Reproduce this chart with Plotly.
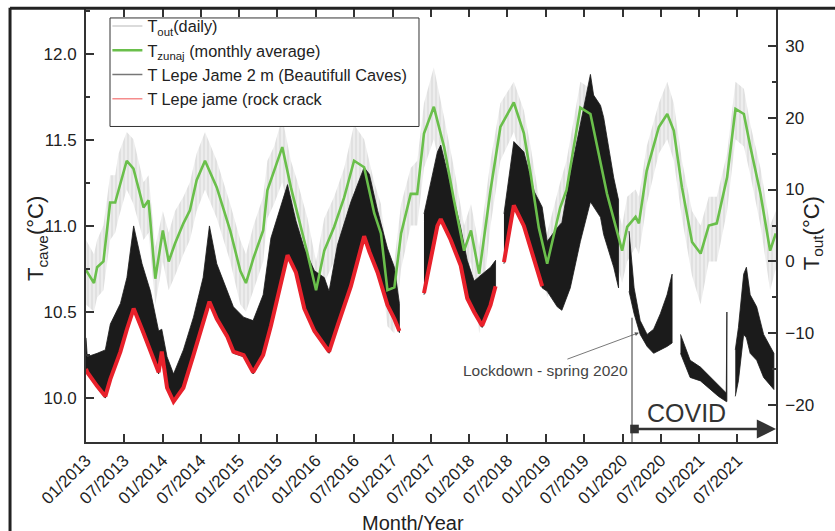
import plotly.graph_objects as go

# ---------------------------------------------------------------------------
# Outside air temperature (right axis, degC)
# ---------------------------------------------------------------------------
OUT_DATES = [
    "2013-01-01", "2013-02-08", "2013-02-23", "2013-03-25", "2013-04-26", "2013-05-20",
    "2013-06-05", "2013-07-14", "2013-08-15", "2013-10-02", "2013-10-26", "2013-11-27",
    "2014-01-02", "2014-01-30", "2014-03-01", "2014-04-10", "2014-05-11", "2014-06-12",
    "2014-07-22", "2014-09-16", "2014-11-19", "2015-01-06", "2015-02-02", "2015-03-10",
    "2015-04-25", "2015-05-15", "2015-06-16", "2015-07-25", "2015-09-04", "2015-10-06",
    "2015-11-22", "2016-01-02", "2016-02-10", "2016-03-28", "2016-05-15", "2016-07-01",
    "2016-08-18", "2016-10-05", "2016-11-06", "2016-12-07", "2017-01-09", "2017-02-10",
    "2017-03-28", "2017-04-28", "2017-05-30", "2017-07-16", "2017-09-03", "2017-10-20",
    "2017-12-07", "2018-01-09", "2018-02-17", "2018-04-12", "2018-05-29", "2018-08-01",
    "2018-09-18", "2018-10-20", "2018-11-28", "2019-01-07", "2019-03-10", "2019-04-09",
    "2019-06-14", "2019-08-01", "2019-10-19", "2019-12-30", "2020-01-23", "2020-03-03",
    "2020-03-19", "2020-04-25", "2020-06-22", "2020-08-01", "2020-09-01", "2020-10-10",
    "2020-11-27", "2021-01-07", "2021-02-15", "2021-03-25", "2021-05-13", "2021-06-22",
    "2021-08-01", "2021-09-01", "2021-10-19", "2021-12-04", "2021-12-31",
]
# monthly (running) average
OUT_MONTHLY = [
    -1.2, -3.0, -0.8, 0.0, 8.2, 8.2,
    9.9, 14.0, 12.9, 7.5, 8.5, -2.4,
    4.3, 0.0, 2.5, 5.3, 7.1, 11.3,
    14.0, 10.3, 4.3, -1.3, -3.0, 0.5,
    4.3, 9.9, 12.6, 15.9, 10.3, 6.7,
    1.1, -4.0, 1.5, 4.8, 8.9, 14.0,
    13.1, 6.7, 3.9, -4.0, -3.6, 3.9,
    9.4, 9.4, 17.8, 21.5, 15.9, 8.5,
    1.5, 4.3, -1.7, 9.9, 18.7, 22.1,
    17.8, 12.2, 4.7, -0.3, 7.5, 9.9,
    21.4, 20.5, 9.4, 1.5, 4.8, 6.2,
    5.3, 12.6, 18.7, 20.5, 18.2, 10.3,
    2.7, 1.1, 5.0, 5.3, 11.7, 21.2,
    20.5, 15.9, 9.4, 1.5, 3.9,
]
# spread of the daily values
OUT_DAILY_HIGH = [
    3, 1, 3, 5, 12, 12,
    15, 18, 17, 11, 12, 2,
    7, 4, 7, 9, 11, 15,
    18, 14, 8, 3, 1, 5,
    9, 14, 16, 20, 14, 11,
    6, 0, 6, 9, 13, 19,
    17, 11, 8, 0, 0, 8,
    13, 14, 22, 27, 20, 13,
    5, 8, 2, 14, 22, 25,
    21, 16, 9, 4, 11, 14,
    25, 24, 13, 5, 9, 10,
    9, 16, 22, 25, 22, 14,
    7, 5, 9, 9, 15, 25,
    24, 19, 13, 5, 7,
]
OUT_DAILY_LOW = [
    -6, -7, -5, -4, 3, 4,
    6, 10, 8, 3, 4, -6,
    0, -4, -2, 1, 3, 7,
    10, 6, 0, -6, -7, -4,
    0, 6, 8, 11, 6, 2,
    -3, -8, -3, 0, 4, 10,
    9, 2, -1, -9, -10, -1,
    5, 5, 13, 17, 11, 4,
    -3, 0, -10, 5, 14, 18,
    13, 8, 0, -5, 3, 5,
    17, 16, 5, -3, 0, 2,
    1, 8, 15, 17, 14, 6,
    -2, -6, 0, 0, 7, 17,
    16, 12, 5, -4, -1,
]

# ---------------------------------------------------------------------------
# Cave temperature, Lepe Jame 2 m (left axis, degC): daily range, None = no data
# ---------------------------------------------------------------------------
CAVE_DATES = [
    "2013-01-01", "2013-01-07", "2013-02-23", "2013-04-03", "2013-04-27", "2013-06-14",
    "2013-07-15", "2013-08-16", "2013-09-25", "2013-11-04", "2013-12-13", "2013-12-28",
    "2014-01-22", "2014-02-22", "2014-04-10", "2014-05-28", "2014-07-13", "2014-08-12",
    "2014-09-16", "2014-11-04", "2014-12-04", "2015-01-22", "2015-03-08", "2015-04-25",
    "2015-06-01", "2015-08-19", "2015-09-28", "2015-11-07", "2015-12-25", "2016-02-10",
    "2016-03-04", "2016-04-13", "2016-06-16", "2016-08-18", "2016-09-12", "2016-10-21",
    "2016-12-07", "2017-01-09", "2017-02-02", None,
    "2017-05-30", "2017-08-02", "2017-08-18", "2017-10-04", "2017-11-21", "2017-12-22",
    "2018-01-24", "2018-03-03", "2018-04-12", "2018-05-06", None,
    "2018-06-15", "2018-08-01", "2018-09-18", "2018-11-06", "2018-12-14", "2019-01-07",
    "2019-02-24", "2019-03-18", "2019-04-27", "2019-06-14", "2019-08-01", "2019-08-16",
    "2019-09-18", "2019-10-03", "2019-11-20", "2019-12-13", None,
    "2020-02-01", "2020-02-25", "2020-03-25", "2020-04-27", "2020-05-28", "2020-06-29",
    "2020-07-31", "2020-08-24", None,
    "2020-10-03", "2020-11-18", "2021-01-06", "2021-02-24", "2021-04-02", "2021-05-09",
    "2021-05-12", None,
    "2021-06-21", "2021-07-06", "2021-07-31", "2021-08-13", "2021-08-31", "2021-10-01",
    "2021-11-03", "2021-12-22",
]
CAVE_HIGH = [
    10.35, 10.24, 10.26, 10.28, 10.43, 10.55,
    10.70, 11.00, 10.78, 10.62, 10.39, 10.40,
    10.24, 10.14, 10.28, 10.47, 10.70, 11.00,
    10.78, 10.62, 10.53, 10.47, 10.45, 10.60,
    10.93, 11.24, 11.03, 10.87, 10.74, 10.70,
    10.62, 10.89, 11.14, 11.34, 11.30, 11.09,
    10.87, 10.76, 10.55, None,
    11.07, 11.43, 11.47, 11.24, 10.99, 10.80,
    10.68, 10.72, 10.76, 10.80, None,
    11.07, 11.49, 11.43, 11.20, 11.11, 10.91,
    10.99, 11.02, 11.30, 11.59, 11.88, 11.76,
    11.70, 11.63, 11.28, 11.15, None,
    10.97, 10.64, 10.45, 10.37, 10.40, 10.49,
    10.60, 10.72, None,
    10.37, 10.22, 10.18, 10.12, 10.07, 10.03,
    10.50, None,
    10.28, 10.41, 10.72, 10.76, 10.60, 10.53,
    10.37, 10.26,
]
CAVE_LOW = [
    10.16, 10.14, 10.06, 10.00, 10.10, 10.26,
    10.39, 10.51, 10.39, 10.26, 10.14, 10.26,
    10.05, 9.97, 10.05, 10.24, 10.43, 10.55,
    10.45, 10.35, 10.26, 10.24, 10.14, 10.24,
    10.41, 10.82, 10.72, 10.51, 10.38, 10.30,
    10.26, 10.41, 10.64, 10.93, 10.84, 10.72,
    10.53, 10.45, 10.38, None,
    10.60, 10.99, 11.03, 10.91, 10.76, 10.57,
    10.49, 10.41, 10.53, 10.64, None,
    10.78, 11.11, 10.99, 10.80, 10.64, 10.62,
    10.53, 10.51, 10.64, 10.91, 11.14, 11.11,
    11.05, 10.95, 10.76, 10.64, None,
    10.62, 10.49, 10.37, 10.30, 10.26, 10.28,
    10.30, 10.32, None,
    10.26, 10.12, 10.10, 10.05, 10.01, 9.98,
    9.98, None,
    10.01, 10.10, 10.37, 10.35, 10.26, 10.22,
    10.12, 10.05,
]

# ---------------------------------------------------------------------------
# Cave temperature, Lepe Jame rock crack (left axis, degC)
# ---------------------------------------------------------------------------
CRACK_DATES = [
    "2013-01-01", "2013-01-07", "2013-02-23", "2013-04-03", "2013-04-27", "2013-06-14",
    "2013-07-15", "2013-08-16", "2013-09-25", "2013-11-04", "2013-12-13", "2013-12-28",
    "2014-01-22", "2014-02-22", "2014-04-10", "2014-05-28", "2014-07-13", "2014-08-12",
    "2014-09-16", "2014-11-04", "2014-12-04", "2015-01-22", "2015-03-08", "2015-04-25",
    "2015-06-01", "2015-08-19", "2015-09-28", "2015-11-07", "2015-12-25", "2016-02-10",
    "2016-03-04", "2016-04-13", "2016-06-16", "2016-08-18", "2016-09-12", "2016-10-21",
    "2016-12-07", "2017-01-09", "2017-02-02", None,
    "2017-05-30", "2017-08-02", "2017-08-18", "2017-10-04", "2017-11-21", "2017-12-22",
    "2018-01-24", "2018-03-03", "2018-04-12", "2018-05-06", None,
    "2018-06-15", "2018-08-01", "2018-09-18", "2018-11-06", "2018-12-14",
]
CRACK_T = [
    10.17, 10.15, 10.07, 10.01, 10.11, 10.27,
    10.40, 10.52, 10.40, 10.27, 10.15, 10.27,
    10.06, 9.98, 10.06, 10.25, 10.44, 10.56,
    10.46, 10.36, 10.27, 10.25, 10.15, 10.25,
    10.42, 10.83, 10.73, 10.52, 10.39, 10.31,
    10.27, 10.42, 10.65, 10.94, 10.85, 10.73,
    10.54, 10.46, 10.39, None,
    10.61, 11.00, 11.04, 10.92, 10.77, 10.58,
    10.50, 10.42, 10.54, 10.65, None,
    10.79, 11.12, 11.00, 10.81, 10.65,
]

# axes
X_RANGE = ["2013-01-01", "2022-01-01"]
X_TICKS = [
    "2013-01-01", "2013-07-01", "2014-01-01", "2014-07-01", "2015-01-01", "2015-07-01",
    "2016-01-01", "2016-07-01", "2017-01-01", "2017-07-01", "2018-01-01", "2018-07-01",
    "2019-01-01", "2019-07-01", "2020-01-01", "2020-07-01", "2021-01-01", "2021-07-01",
]
CAVE_RANGE = [9.745, 12.26]
OUT_RANGE = [-25.1, 35.1]
CAVE_TICKS = [10.0, 10.5, 11.0, 11.5, 12.0]
OUT_TICKS = [-20, -10, 0, 10, 20, 30]

LOCKDOWN_DATE = "2020-02-15"
LOCKDOWN_ARROW_AT = ("2020-03-19", 10.38)
COVID_LABEL_DATE = "2020-11-02"

FONT = "Liberation Sans, Arial, Helvetica, sans-serif"
INK = "#222222"


def band_polygon(dates, high, low):
    """Close every uninterrupted run of (high, low) into one polygon, runs split by None."""
    xs, ys = [], []
    seg_d, seg_h, seg_l = [], [], []

    def flush():
        if seg_d:
            if xs:
                xs.append(None)
                ys.append(None)
            xs.extend(seg_d + seg_d[::-1])
            ys.extend(seg_h + seg_l[::-1])

    for d, h, l in zip(dates, high, low):
        if d is None:
            flush()
            seg_d, seg_h, seg_l = [], [], []
        else:
            seg_d.append(d)
            seg_h.append(h)
            seg_l.append(l)
    flush()
    return xs, ys


fig = go.Figure()

# daily outside temperature spread (bottom layer, y)
gx, gy = band_polygon(OUT_DATES, OUT_DAILY_HIGH, OUT_DAILY_LOW)
fig.add_trace(go.Scatter(
    x=gx, y=gy, yaxis="y", mode="none", fill="toself",
    fillcolor="#e4e4e4",
    fillpattern=dict(shape="|", fgcolor="#c6c6c6", bgcolor="#ededed", size=4, solidity=0.3),
    showlegend=False, hoverinfo="skip",
))

# cave 2 m: daily range band (middle layer, y2)
cx, cy = band_polygon(CAVE_DATES, CAVE_HIGH, CAVE_LOW)
fig.add_trace(go.Scatter(
    x=cx, y=cy, yaxis="y2", mode="lines", fill="toself",
    fillcolor="#1b1b1b", line=dict(color="#1b1b1b", width=0.8),
    showlegend=False, hoverinfo="skip",
))

# rock crack
fig.add_trace(go.Scatter(
    x=CRACK_DATES, y=CRACK_T, yaxis="y2", mode="lines",
    line=dict(color="#e8212b", width=4), connectgaps=False,
    showlegend=False, hoverinfo="skip",
))

# monthly average outside temperature (top layer, y3)
fig.add_trace(go.Scatter(
    x=OUT_DATES, y=OUT_MONTHLY, yaxis="y3", mode="lines",
    line=dict(color="#6abf4b", width=2.6),
    showlegend=False, hoverinfo="skip",
))

# legend entries
legend_items = [
    ("T<sub>out</sub>(daily)", "#cfcfcf", 1.5),
    ("T<sub>zunaj</sub> (monthly average)", "#6abf4b", 2.6),
    ("T Lepe Jame 2 m (Beautifull Caves)", "#777777", 1.5),
    ("T Lepe jame (rock crack", "#f58c8c", 1.5),
]
for name, color, width in legend_items:
    fig.add_trace(go.Scatter(
        x=[None], y=[None], yaxis="y", mode="lines", name=name,
        line=dict(color=color, width=width),
    ))

axis_common = dict(
    showgrid=False, zeroline=False, showline=True, linecolor="#333333", linewidth=1.8,
    ticks="inside", ticklen=8, tickwidth=1.5, tickcolor="#333333",
    tickfont=dict(family=FONT, size=17, color=INK),
)

fig.update_layout(
    width=835, height=531,
    margin=dict(l=86, r=59, t=7, b=89),
    paper_bgcolor="white", plot_bgcolor="white",
    font=dict(family=FONT, color=INK),
    xaxis=dict(
        **axis_common,
        type="date", range=X_RANGE, tickvals=X_TICKS,
        tickformat="%m/%Y", tickangle=-45, mirror="ticks",
    ),
    yaxis=dict(
        **axis_common,
        side="right", range=OUT_RANGE, tickvals=OUT_TICKS,
        minor=dict(dtick=5, tick0=0, ticks="inside", ticklen=4, tickcolor="#333333"),
        ticklabelstandoff=4,
    ),
    yaxis2=dict(
        **axis_common,
        side="left", overlaying="y", range=CAVE_RANGE, tickvals=CAVE_TICKS,
        tickformat=".1f",
        minor=dict(dtick=0.25, tick0=10, ticks="inside", ticklen=4, tickcolor="#333333"),
        ticklabelstandoff=4,
    ),
    yaxis3=dict(overlaying="y", range=OUT_RANGE, visible=False),
    showlegend=True,
    legend=dict(
        x=0.031, y=1.0, xanchor="left", yanchor="top",
        bgcolor="rgba(0,0,0,0)", borderwidth=0,
        font=dict(family=FONT, size=16.3, color=INK),
        tracegroupgap=0, itemwidth=30,
    ),
)

shapes = [
    # legend frame
    dict(type="rect", xref="paper", yref="paper", x0=0.0348, x1=0.4826, y0=0.7287, y1=0.9793,
         line=dict(color="#333333", width=1), fillcolor="white", layer="above"),
    # lockdown marker line
    dict(type="line", xref="x", yref="paper", x0=LOCKDOWN_DATE, x1=LOCKDOWN_DATE, y0=0, y1=0.287,
         line=dict(color="#333333", width=1)),
    # figure frame (left and top)
    dict(type="line", xref="paper", yref="paper", x0=-0.1101, x1=-0.1101, y0=-0.25, y1=1.003,
         line=dict(color="#222222", width=3)),
    dict(type="line", xref="paper", yref="paper", x0=-0.1101, x1=1.12, y0=1.002, y1=1.002,
         line=dict(color="#222222", width=3)),
]
fig.update_layout(shapes=shapes)

annotations = [
    # axis titles
    dict(text="T<sub>cave</sub>(°C)", xref="paper", yref="paper", x=-0.094, y=0.469,
         textangle=-90, showarrow=False, font=dict(family=FONT, size=22, color=INK)),
    dict(text="T<sub>out</sub>(°C)", xref="paper", yref="paper", x=1.076, y=0.483,
         textangle=-90, showarrow=False, font=dict(family=FONT, size=22, color=INK)),
    dict(text="Month/Year", xref="paper", yref="paper", x=0.474, y=-0.158,
         yanchor="top", showarrow=False, font=dict(family=FONT, size=20, color=INK)),
    # lockdown note
    dict(text="Lockdown - spring 2020", xref="paper", yref="paper", x=0.666, y=0.142,
         showarrow=False, font=dict(family=FONT, size=15.5, color="#444444")),
    dict(text="", x=LOCKDOWN_ARROW_AT[0], y=LOCKDOWN_ARROW_AT[1], xref="x", yref="y2",
         showarrow=True, ax=-73, ay=27, arrowhead=2, arrowsize=1, arrowwidth=0.8,
         arrowcolor="#555555"),
    # covid period
    dict(text="COVID", x=COVID_LABEL_DATE, xref="x", yref="paper", y=0.030,
         showarrow=False, font=dict(family=FONT, size=25, color="#333333")),
    dict(text="", x=1.0, y=0.030, xref="paper", yref="paper", showarrow=True,
         ax=-143, ay=0, arrowhead=2, arrowsize=1.6, arrowwidth=2.4, arrowcolor="#333333",
         arrowside="end+start", startarrowhead=7, startarrowsize=0.9),
]
fig.update_layout(annotations=annotations)

fig.write_html("out.html")
